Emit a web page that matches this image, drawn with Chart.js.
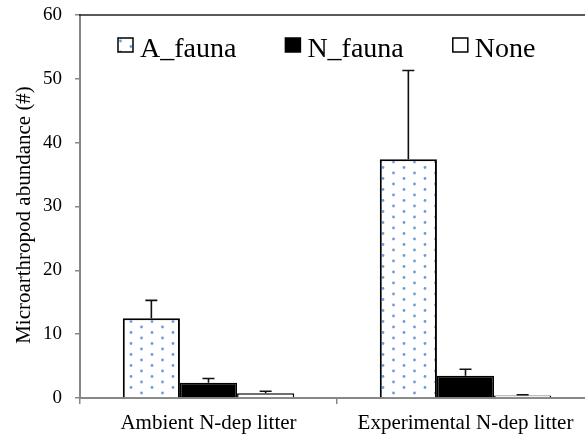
<!DOCTYPE html>
<html>
<head>
<meta charset="utf-8">
<script src="https://cdn.jsdelivr.net/npm/chart.js@4.4.1/dist/chart.umd.min.js"></script>
<style>
  html, body { margin: 0; padding: 0; background: #fff; overflow: hidden; }
  #caixa { width: 600px; height: 438px; }
</style>
</head>
<body>
<div id="caixa"><canvas id="grafico" width="600" height="438"></canvas></div>
<script>
// dados
const categorias = ['Ambient N-dep litter', 'Experimental N-dep litter'];
const rotulosSeries = ['A_fauna', 'N_fauna', 'None'];
const aFauna = [12.5, 37.4];
const aFaunaErro = [2.8, 13.9];
const nFauna = [2.4, 3.5];
const nFaunaErro = [0.65, 1.0];
const nenhum = [0.75, 0.4];
const nenhumErro = [0.3, 0.1];
const ticksY = [0, 10, 20, 30, 40, 50, 60];
const tituloY = 'Microarthropod abundance (#)';

const fonteSerif = "'Liberation Serif', 'Times New Roman', serif";
const cinzaEixo = '#878787';

// padrão de pontinhos azuis para A_fauna
function criarPadrao() {
    const tile = document.createElement('canvas');
    tile.width = 21; tile.height = 11;
    const c = tile.getContext('2d');
    c.fillStyle = '#ffffff';
    c.fillRect(0, 0, 21, 11);
    c.fillStyle = '#6f9cd9';
    [[5, 2.5], [15.5, 8]].forEach(([x, y]) => {
        c.beginPath();
        c.arc(x, y, 1.4, 0, Math.PI * 2);
        c.fill();
    });
    return document.getElementById('grafico').getContext('2d').createPattern(tile, 'repeat');
}
const padraoPontos = criarPadrao();

const errosPorSerie = [aFaunaErro, nFaunaErro, nenhumErro];

// barras de erro (só para cima)
const pluginErros = {
    id: 'barrasErro',
    afterDatasetsDraw(chart) {
        const ctx = chart.ctx;
        const y = chart.scales.y;
        ctx.save();
        ctx.strokeStyle = '#111';
        ctx.lineWidth = 1.6;
        chart.data.datasets.forEach((ds, i) => {
            const meta = chart.getDatasetMeta(i);
            meta.data.forEach((barra, j) => {
                const topo = y.getPixelForValue(ds.data[j]);
                const fim = y.getPixelForValue(ds.data[j] + errosPorSerie[i][j]);
                ctx.beginPath();
                ctx.moveTo(barra.x, topo);
                ctx.lineTo(barra.x, fim);
                ctx.moveTo(barra.x - 6, fim);
                ctx.lineTo(barra.x + 6, fim);
                ctx.stroke();
            });
        });
        ctx.restore();
    }
};

// moldura superior, título do eixo Y e legenda dentro da área
const pluginMoldura = {
    id: 'moldura',
    afterDraw(chart) {
        const ctx = chart.ctx;
        const area = chart.chartArea;
        ctx.save();
        ctx.strokeStyle = '#222';
        ctx.lineWidth = 1.6;
        ctx.beginPath();
        ctx.moveTo(area.left - 1, area.top);
        ctx.lineTo(chart.width, area.top);
        ctx.stroke();

        // título do eixo Y
        ctx.save();
        ctx.translate(24, 215);
        ctx.rotate(-Math.PI / 2);
        ctx.font = '21px ' + fonteSerif;
        ctx.fillStyle = '#000';
        ctx.textAlign = 'center';
        ctx.textBaseline = 'middle';
        ctx.fillText(tituloY, 0, 0);
        ctx.restore();

        // legenda
        ctx.font = '28px ' + fonteSerif;
        ctx.textBaseline = 'alphabetic';
        let x = 118;
        chart.data.datasets.forEach((ds) => {
            ctx.fillStyle = ds.backgroundColor;
            ctx.fillRect(x, 38, 15, 14);
            ctx.strokeStyle = '#000';
            ctx.lineWidth = 1.5;
            ctx.strokeRect(x, 38, 15, 14);
            ctx.fillStyle = '#000';
            ctx.fillText(ds.label, x + 22, 56.5);
            x += 22 + ctx.measureText(ds.label).width + 49;
        });
        ctx.restore();
    }
};

new Chart(document.getElementById('grafico'), {
    type: 'bar',
    data: {
        labels: categorias,
        datasets: [
            { label: rotulosSeries[0], data: aFauna, backgroundColor: padraoPontos, borderColor: '#000', borderWidth: 2 },
            { label: rotulosSeries[1], data: nFauna, backgroundColor: '#000', borderColor: '#000', borderWidth: 1.5 },
            { label: rotulosSeries[2], data: nenhum, backgroundColor: '#fff', borderColor: '#000', borderWidth: 1.5 }
        ]
    },
    options: {
        responsive: false,
        animation: false,
        devicePixelRatio: 1,
        layout: { padding: { top: 15, right: 6, left: 0, bottom: 0 } },
        datasets: { bar: { categoryPercentage: 0.667, barPercentage: 1.0 } },
        plugins: { legend: { display: false }, tooltip: { enabled: false } },
        scales: {
            x: {
                border: { color: cinzaEixo, width: 2 },
                grid: { display: true, drawOnChartArea: false, tickLength: 6, color: cinzaEixo, lineWidth: 1.5 },
                ticks: { color: '#000', padding: 7, maxRotation: 0, font: { family: fonteSerif, size: 21 } },
                afterFit: (s) => { s.height = 40; }
            },
            y: {
                min: 0, max: 60,
                afterBuildTicks: (s) => { s.ticks = ticksY.map(v => ({ value: v })); },
                border: { color: cinzaEixo, width: 2 },
                grid: { display: true, drawOnChartArea: false, tickLength: 5, color: cinzaEixo, lineWidth: 1.5 },
                ticks: { color: '#000', padding: 13, font: { family: fonteSerif, size: 19 } },
                afterFit: (s) => { s.width = 80; s.paddingTop = 0; s.paddingBottom = 0; }
            }
        }
    },
    plugins: [pluginErros, pluginMoldura]
});
</script>
</body>
</html>
